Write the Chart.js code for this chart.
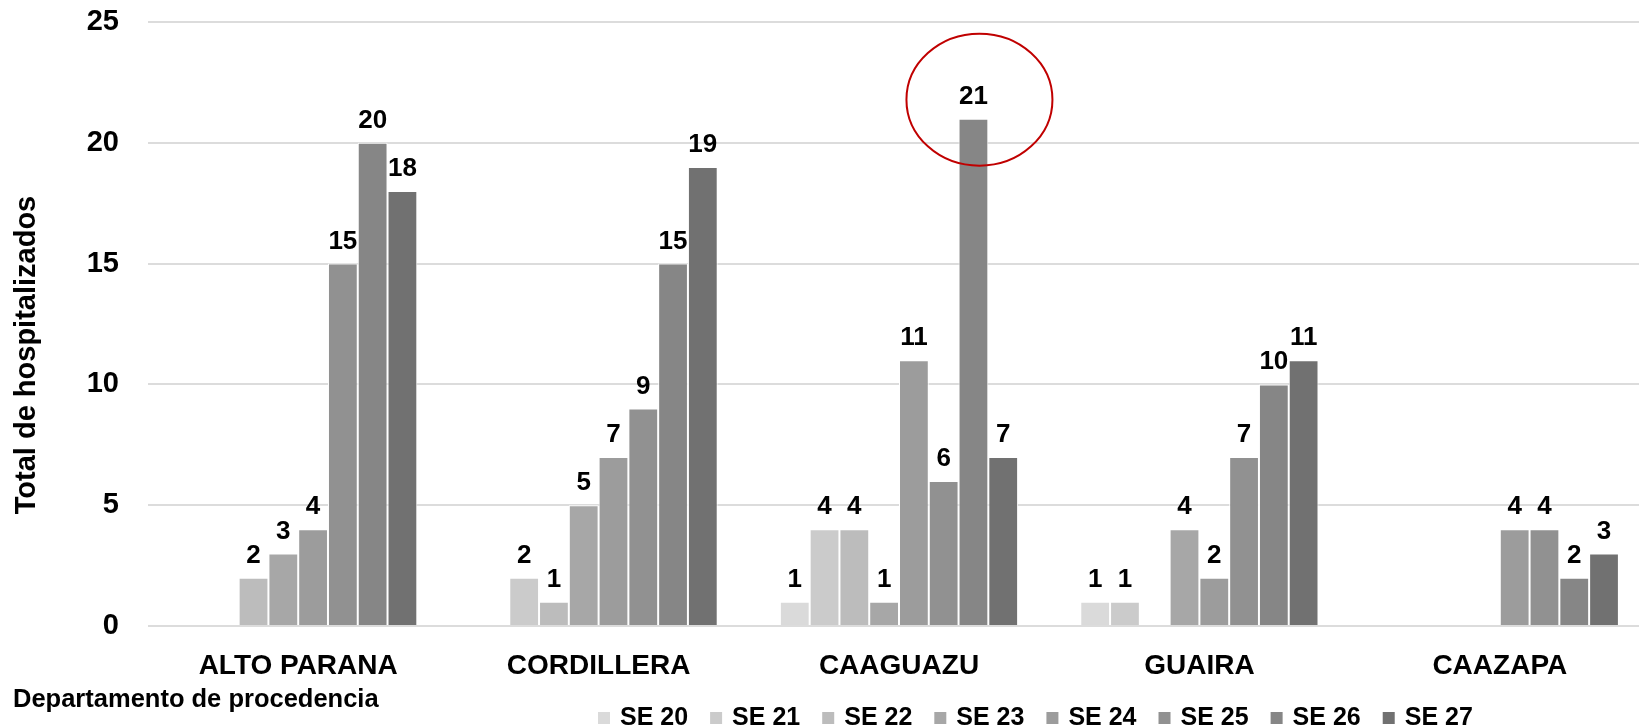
<!DOCTYPE html>
<html>
<head>
<meta charset="utf-8">
<script src="https://cdn.jsdelivr.net/npm/chart.js@4/dist/chart.umd.min.js"></script>
<style>
html, body { margin: 0; padding: 0; background: #fff; overflow: hidden; }
#wrap { width: 1660px; height: 728px; }
</style>
</head>
<body>
<div id="wrap"><canvas id="chart" width="1660" height="728"></canvas></div>
<script>
const categories = ['ALTO PARANA', 'CORDILLERA', 'CAAGUAZU', 'GUAIRA', 'CAAZAPA']
const seriesNames = ['SE 20', 'SE 21', 'SE 22', 'SE 23', 'SE 24', 'SE 25', 'SE 26', 'SE 27']
const se20 = [null, null, 1, 1, null]
const se21 = [null, 2, 4, 1, null]
const se22 = [2, 1, 4, null, null]
const se23 = [3, 5, 1, 4, null]
const se24 = [4, 7, 11, 2, 4]
const se25 = [15, 9, 6, 7, 4]
const se26 = [20, 15, 21, 10, 2]
const se27 = [18, 19, 7, 11, 3]
const yTicks = [0, 5, 10, 15, 20, 25]

const greys = ['#dadada', '#cbcbcb', '#bcbcbc', '#a7a7a7', '#9c9c9c', '#919191', '#868686', '#717171']
const font = "'Liberation Sans', Arial, sans-serif"

// the circled bar (SE 26 in CAAGUAZU)
const circledSeries = 6
const circledCategory = 2

const values = [se20, se21, se22, se23, se24, se25, se26, se27]

const labelsPlugin = {
    id: 'labels',
    afterDatasetsDraw(chart) {
        const ctx = chart.ctx
        ctx.save()
        ctx.font = 'bold 26px ' + font
        ctx.fillStyle = '#000'
        ctx.textAlign = 'center'
        ctx.textBaseline = 'alphabetic'
        chart.data.datasets.forEach((ds, i) => {
            chart.getDatasetMeta(i).data.forEach((bar, j) => {
                if (ds.data[j] == null) return
                ctx.fillText(ds.data[j], bar.x, bar.y - 15)
            })
        })
        // red ellipse
        const b = chart.getDatasetMeta(circledSeries).data[circledCategory]
        ctx.strokeStyle = '#c00000'
        ctx.lineWidth = 2
        ctx.beginPath()
        ctx.ellipse(b.x + 6, b.y - 19, 73, 66, 0, 0, Math.PI * 2)
        ctx.stroke()

        // axis titles
        ctx.font = 'bold 25.5px ' + font
        ctx.textAlign = 'left'
        ctx.textBaseline = 'middle'
        ctx.fillText('Departamento de procedencia', 13, 700)
        ctx.save()
        ctx.translate(27, 355)
        ctx.rotate(-Math.PI / 2)
        ctx.textAlign = 'center'
        ctx.font = 'bold 29px ' + font
        ctx.fillText('Total de hospitalizados', 0, 0)
        ctx.restore()

        // legend
        ctx.font = 'bold 25px ' + font
        let x = 598
        const y = 718
        chart.data.datasets.forEach((ds) => {
            ctx.fillStyle = ds.backgroundColor
            ctx.fillRect(x, y - 6, 12, 12)
            ctx.fillStyle = '#000'
            ctx.fillText(ds.label, x + 22, y)
            x += 22 + ctx.measureText(ds.label).width + 22
        })
        ctx.restore()
    }
}

new Chart('chart', {
    type: 'bar',
    data: {
        labels: categories,
        datasets: seriesNames.map((name, i) => ({
            label: name,
            data: values[i],
            backgroundColor: greys[i],
            borderColor: '#ffffff',
            borderWidth: 1,
            categoryPercentage: 0.793,
            barPercentage: 1
        }))
    },
    options: {
        responsive: false,
        animation: false,
        layout: { padding: { top: 22, right: 10, left: 0, bottom: 0 } },
        plugins: {
            legend: { display: false },
            tooltip: { enabled: false }
        },
        scales: {
            x: {
                grid: { display: false },
                border: { display: false },
                ticks: {
                    color: '#000',
                    font: { family: font, size: 28, weight: 'bold' },
                    padding: 15,
                    maxRotation: 0
                },
                afterFit(scale) { scale.height = 102 }
            },
            y: {
                min: yTicks[0],
                max: yTicks[yTicks.length - 1],
                border: { display: false },
                grid: { color: '#dcdcdc', lineWidth: 2, drawTicks: false },
                ticks: {
                    stepSize: yTicks[1] - yTicks[0],
                    color: '#000',
                    font: { family: font, size: 29, weight: 'bold' },
                    padding: 29
                },
                afterFit(scale) {
                    scale.width = 148
                    scale.paddingTop = 0
                    scale.paddingBottom = 0
                }
            }
        }
    },
    plugins: [labelsPlugin]
})
</script>
</body>
</html>
